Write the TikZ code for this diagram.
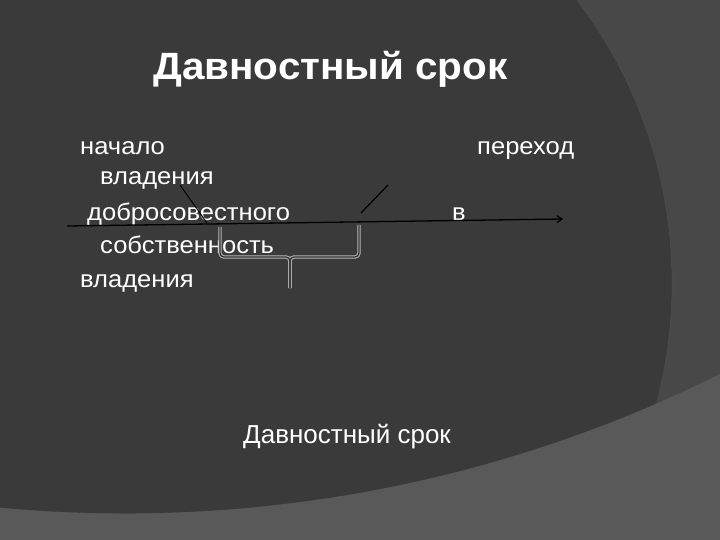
\documentclass[tikz,border=0pt]{standalone}
\usepackage{fontspec}
\setmainfont{Liberation Sans}
\newfontfamily\widefont[FakeStretch=1.065]{Liberation Sans}
\usetikzlibrary{arrows.meta}
\definecolor{bgdark}{HTML}{3A3A3A}
\definecolor{bgmid}{HTML}{484848}
\definecolor{bglight}{HTML}{595959}
\definecolor{braceout}{HTML}{B8B8B8}
\tikzset{
  txt/.style={anchor=base west, inner sep=0pt, text=white, font=\widefont\fontsize{24}{24}\selectfont},
  txtb/.style={anchor=base west, inner sep=0pt, text=white, font=\fontsize{26}{26}\selectfont},
  ttl/.style={anchor=base west, inner sep=0pt, text=white, font=\widefont\fontsize{38}{38}\selectfont\bfseries},
  blk/.style={draw=black, line width=1.3pt},
  braceglow/.style={draw=braceout, line width=3.4pt, rounded corners=4pt},
  bracecore/.style={draw=bgdark!80!black, line width=1.3pt, rounded corners=4pt}
}
\begin{document}
\begin{tikzpicture}[x=1pt,y=-1pt]
\useasboundingbox (0,0) rectangle (720,540);
% background
\fill[bglight] (0,0) rectangle (720,540);
\begin{scope}
  \clip (0,0) rectangle (720,540);
  \fill[bgmid] (124.8,-823.7) circle[radius=1337];
  \clip (124.8,-823.7) circle[radius=1337];
  \fill[bgdark] (203,283) circle[radius=469];
  \draw[bgmid!85!white, line width=0.6pt, opacity=0.35] (203,283) circle[radius=469];
\end{scope}
% texts
\node[ttl] (title) at (153,80) {Давностный срок};
\node[txt] (t1) at (80,155) {начало};
\node[txt] (t2) at (100,185) {владения};
\node[txt] (t3) at (87,221) {добросовестного};
\node[txt] (t4) at (100,253) {собственность};
\node[txt] (t5) at (80,287) {владения};
\node[txt] (t6) at (477,155) {переход};
\node[txt] (t7) at (452,221) {в};
\node[txtb] (t8) at (243,443) {Давностный срок};
% timeline
\coordinate (ls) at (67,226);
\coordinate (le) at (563,219);
\draw[blk, -{Straight Barb[length=5pt,width=7pt]}] (ls) -- (le);
\coordinate (d1a) at (180,185);
\coordinate (d1b) at (207,223);
\draw[blk, line width=1pt] (d1a) -- (d1b);
\coordinate (d2a) at (388,185);
\coordinate (d2b) at (361,213);
\draw[blk, line width=1.2pt] (d2a) -- (d2b);
% brace
\coordinate (bl) at (220,227);
\coordinate (br) at (359,225);
\coordinate (bt) at (290,288);
\coordinate (bm) at (290,257);
\foreach \s in {braceglow,bracecore}{
  \draw[\s] (bl) -- (220,257) -- (bm) -- (bt);
  \draw[\s] (br) -- (359,257) -- (bm) -- (bt);
}
\end{tikzpicture}
\end{document}
